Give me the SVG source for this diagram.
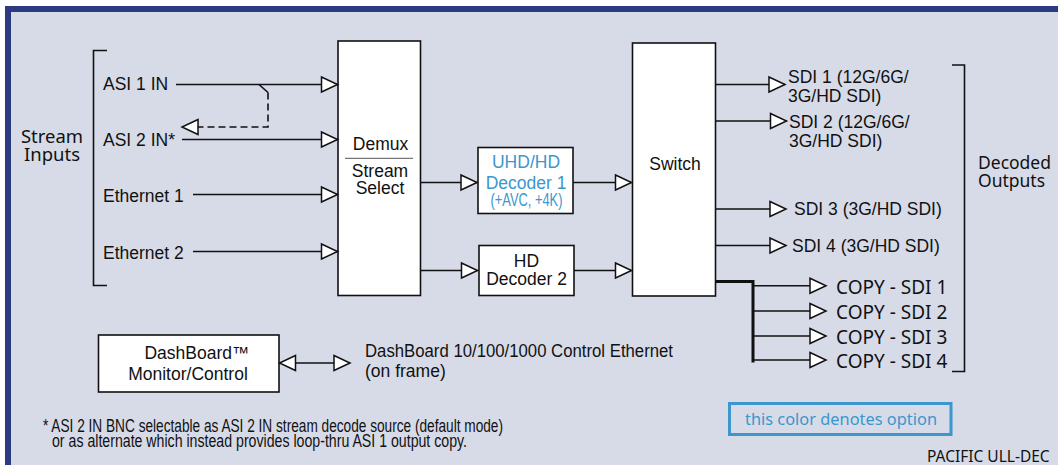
<svg xmlns="http://www.w3.org/2000/svg" width="1058" height="465" viewBox="0 0 1058 465">
<defs>
<style>
.t{font-family:"Liberation Sans",Arial,sans-serif;font-size:17.5px;fill:#111}
.n{font-family:"Noto Sans","Open Sans",sans-serif;fill:#111}
.opt{fill:#3b97cc}
.box{fill:#fff;stroke:#111;stroke-width:1.6}
.ln{fill:none;stroke:#111;stroke-width:1.6}
.c{text-anchor:middle}
</style>
<marker id="ar" markerUnits="userSpaceOnUse" markerWidth="20" markerHeight="20" refX="17" refY="8" orient="auto-start-reverse" overflow="visible">
<path d="M1,0.5 L17,8 L1,15.5 Z" fill="#fff" stroke="#111" stroke-width="1.5" stroke-dasharray="none"/>
</marker>
</defs>
<rect x="0" y="0" width="1058" height="465" fill="#fff"/>
<rect x="5" y="6" width="1053" height="459" fill="#d7dbe8"/>
<rect x="5" y="6" width="1053" height="6" fill="#2c3a80"/>
<rect x="5" y="6" width="6" height="459" fill="#2c3a80"/>

<g id="stream-inputs">
<path class="ln" d="M107,50.5 H93.5 V285.5 H107"/>
<text class="n c" x="52" y="142.5" font-size="17.5" textLength="62" lengthAdjust="spacingAndGlyphs">Stream</text>
<text class="n c" x="52" y="161" font-size="17.5" textLength="56" lengthAdjust="spacingAndGlyphs">Inputs</text>
<text class="t" x="103" y="90">ASI 1 IN</text>
<text class="t" x="103" y="145.5">ASI 2 IN*</text>
<text class="t" x="103" y="201.5">Ethernet 1</text>
<text class="t" x="103" y="259">Ethernet 2</text>
</g>

<g id="demux">
<rect class="box" x="338" y="41" width="82.5" height="254.5"/>
<text class="t c" x="380.5" y="150" font-size="16.5">Demux</text>
<line x1="345" y1="158.3" x2="413" y2="158.3" stroke="#777" stroke-width="1.2"/>
<text class="t c" x="380" y="177" font-size="15.5">Stream</text>
<text class="t c" x="380" y="193.5" font-size="15.5">Select</text>
</g>

<g id="decoder1">
<rect class="box" x="478" y="147.5" width="95" height="66"/>
<text class="t c opt" x="526" y="167.5" font-size="16.5">UHD/HD</text>
<text class="t c opt" x="526" y="189" font-size="16.5">Decoder 1</text>
<text class="t c opt" x="526.5" y="206" font-size="11.5" textLength="72" lengthAdjust="spacingAndGlyphs">(+AVC, +4K)</text>
</g>

<g id="decoder2">
<rect class="box" x="479" y="245.5" width="95" height="50"/>
<text class="t c" x="526.5" y="266.5" font-size="16.5">HD</text>
<text class="t c" x="526.5" y="284.5" font-size="16.5">Decoder 2</text>
</g>

<g id="switch">
<rect class="box" x="632.5" y="43" width="83" height="253"/>
<text class="t c" x="675" y="170" font-size="16.5">Switch</text>
</g>

<g id="outputs">
<text class="t" x="788" y="82.5" font-size="17">SDI 1 (12G/6G/</text>
<text class="t" x="788" y="102" font-size="17">3G/HD SDI)</text>
<text class="t" x="789" y="127.5" font-size="17">SDI 2 (12G/6G/</text>
<text class="t" x="789" y="147" font-size="17">3G/HD SDI)</text>
<text class="t" x="794" y="215" font-size="17">SDI 3 (3G/HD SDI)</text>
<text class="t" x="792" y="252" font-size="17">SDI 4 (3G/HD SDI)</text>
<text class="n" x="836" y="293.5" font-size="19">COPY - SDI 1</text>
<text class="n" x="836" y="318.5" font-size="19">COPY - SDI 2</text>
<text class="n" x="836" y="343.5" font-size="19">COPY - SDI 3</text>
<text class="n" x="836" y="368" font-size="19">COPY - SDI 4</text>
<path class="ln" d="M952,65 H964.5 V371.5 H952"/>
<text class="n" x="978" y="168.5" font-size="17.5" textLength="73" lengthAdjust="spacingAndGlyphs">Decoded</text>
<text class="n" x="978" y="186.5" font-size="17.5" textLength="67" lengthAdjust="spacingAndGlyphs">Outputs</text>
</g>

<g id="dashboard">
<rect class="box" x="98.5" y="335" width="180.5" height="57"/>
<text class="t c" x="197" y="359" font-size="17">DashBoard™</text>
<text class="t c" x="188" y="380" font-size="17">Monitor/Control</text>
<text class="t" x="365" y="357" textLength="308" lengthAdjust="spacingAndGlyphs">DashBoard 10/100/1000 Control Ethernet</text>
<text class="t" x="365" y="377">(on frame)</text>
</g>

<g id="legend">
<rect x="729.5" y="403.5" width="221.5" height="31" fill="none" stroke="#3b97cc" stroke-width="3"/>
<text class="n opt" x="745" y="424.5" font-size="17" textLength="192" lengthAdjust="spacingAndGlyphs">this color denotes option</text>
</g>

<g id="notes">
<text class="t" x="43" y="432" font-size="12.5" textLength="460" lengthAdjust="spacingAndGlyphs">* ASI 2 IN BNC selectable as ASI 2 IN stream decode source (default mode)</text>
<text class="t" x="52" y="447" font-size="12.5" textLength="415" lengthAdjust="spacingAndGlyphs">or as alternate which instead provides loop-thru ASI 1 output copy.</text>
<text class="n" x="927" y="462" font-size="15.5">PACIFIC ULL-DEC</text>
</g>

<g id="connectors">
<path class="ln" d="M176,84.5 H337.5" marker-end="url(#ar)"/>
<path class="ln" d="M182,139.5 H337.5" marker-end="url(#ar)"/>
<path class="ln" d="M193,194.5 H337.5" marker-end="url(#ar)"/>
<path class="ln" d="M193,251.5 H337.5" marker-end="url(#ar)"/>
<path class="ln" d="M259,84.5 L268,92.5"/>
<path class="ln" d="M268,92.5 V127 H182" stroke-dasharray="7 4" marker-end="url(#ar)"/>
<path class="ln" d="M420.5,182.5 H477" marker-end="url(#ar)"/>
<path class="ln" d="M420.5,270.5 H477.5" marker-end="url(#ar)"/>
<path class="ln" d="M573,182.5 H631.5" marker-end="url(#ar)"/>
<path class="ln" d="M574,270.5 H631.5" marker-end="url(#ar)"/>
<path class="ln" d="M715.5,84.5 H785" marker-end="url(#ar)"/>
<path class="ln" d="M715.5,121 H786.5" marker-end="url(#ar)"/>
<path class="ln" d="M715.5,209 H786" marker-end="url(#ar)"/>
<path class="ln" d="M715.5,245.5 H786" marker-end="url(#ar)"/>
<path d="M715.5,281.5 H753 V362.5" fill="none" stroke="#111" stroke-width="3"/>
<path class="ln" d="M753,285.7 H826" marker-end="url(#ar)"/>
<path class="ln" d="M753,311 H826" marker-end="url(#ar)"/>
<path class="ln" d="M753,336 H826" marker-end="url(#ar)"/>
<path class="ln" d="M753,360 H826" marker-end="url(#ar)"/>
<path class="ln" d="M279.5,363 H350" marker-start="url(#ar)" marker-end="url(#ar)"/>
</g>
</svg>
